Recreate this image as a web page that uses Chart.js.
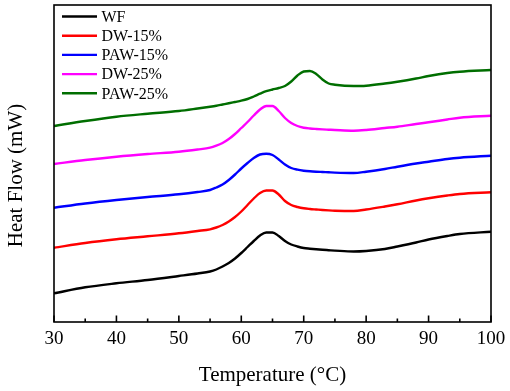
<!DOCTYPE html>
<html>
<head>
<meta charset="utf-8">
<script src="https://cdn.jsdelivr.net/npm/chart.js@4.4.1/dist/chart.umd.min.js"></script>
<style>
html,body{margin:0;padding:0;background:#fff;}
#wrap{width:510px;height:391px;position:relative;}
</style>
</head>
<body>
<div id="wrap"><canvas id="c" width="510" height="391"></canvas></div>
<script>
const temperature = [30,35,40,45,50,53,55,56,57,58,59,60,61,62,63,64,65,66,67,68,69,70,71,72,73,74,75,78,80,83,85,88,90,93,95,100];
const seriesNames = ['WF','DW-15%','PAW-15%','DW-25%','PAW-25%'];
const seriesColors = ['#000000','#ff0000','#0000ff','#ff00ff','#006e00'];
const wf     = [28.7,34.7,38.7,42,46,48.5,50.5,52.5,55.5,59,63.5,69,75,81,86.5,89.5,89.5,86,81,77.5,75.5,74,73.3,72.7,72.2,71.8,71.4,70.5,71,73,75.5,79.5,82.5,86,88,90.3];
const dw15   = [74.3,79,82.7,85.7,88.7,91,92.7,94.5,97,100.5,105,110.5,117,123.5,129,131.5,131.5,127.5,121,117,115,113.7,113,112.5,112,111.6,111.3,111,112.5,115.5,117.7,121.5,123.7,126.5,128,129.7];
const paw15  = [114.3,118.5,122,125,127.7,130,132,134.5,137.5,142,147.5,153.5,159,164,167.5,168.3,167,162.5,157.5,154,152.3,151.3,150.7,150.3,150,149.7,149.4,149,150.3,153,155.3,158.5,160.3,163,164.3,166.3];
const dw25   = [158,162,165.3,168,170.3,172.5,174.3,176.3,179,183,188,194,200,206.5,212.5,216,216,211,204,199,196,194.3,193.5,193,192.6,192.3,192,191.3,192,194,195.3,198,199.7,202.5,204.3,206.3];
const paw25  = [196,201,205.3,208.3,211,213.5,215.3,216.3,217.5,218.7,220,221.3,223,225.5,228.3,230.8,232.5,234,236,240.5,246.5,250.5,251,248,242.5,238.5,237.3,236,236.3,238.5,240.3,243.5,246,249,250.3,252];
const xTickLabels = ['30','40','50','60','70','80','90','100'];
const xTitle = 'Temperature (°C)';
const yTitle = 'Heat Flow (mW)';

const allSeries = [wf, dw15, paw15, dw25, paw25];
const datasets = allSeries.map((vals, i) => ({
  label: seriesNames[i],
  data: temperature.map((t, j) => ({x: t, y: vals[j]})),
  borderColor: seriesColors[i],
  backgroundColor: seriesColors[i],
  borderWidth: 2.4,
  pointRadius: 0,
  cubicInterpolationMode: 'monotone',
  fill: false
}));

const serif = "'Liberation Serif','Times New Roman',serif";

const decor = {
  id: 'decor',
  afterDraw(chart) {
    const ctx = chart.ctx;
    const a = chart.chartArea;
    const xs = chart.scales.x;
    ctx.save();
    ctx.strokeStyle = '#000';
    ctx.lineWidth = 1.6;
    ctx.strokeRect(a.left, a.top, a.right - a.left, a.bottom - a.top);
    for (let v = 30; v <= 100; v += 5) {
      const px = xs.getPixelForValue(v);
      const len = (v % 10 === 0) ? 6.5 : 3.5;
      ctx.beginPath();
      ctx.moveTo(px, a.bottom);
      ctx.lineTo(px, a.bottom - len);
      ctx.stroke();
    }
    ctx.fillStyle = '#000';
    ctx.font = '21px ' + serif;
    ctx.textAlign = 'center';
    ctx.textBaseline = 'middle';
    ctx.translate(16, 175.5);
    ctx.rotate(-Math.PI / 2);
    ctx.fillText(yTitle, 0, 0);
    ctx.restore();
    ctx.save();
    ctx.font = '16px ' + serif;
    ctx.textAlign = 'left';
    ctx.textBaseline = 'middle';
    chart.data.datasets.forEach((ds, i) => {
      const y = 16.5 + i * 19.2;
      ctx.strokeStyle = ds.borderColor;
      ctx.lineWidth = 2.4;
      ctx.beginPath();
      ctx.moveTo(62, y);
      ctx.lineTo(97, y);
      ctx.stroke();
      ctx.fillStyle = '#000';
      ctx.fillText(ds.label, 101.5, y + 1);
    });
    ctx.restore();
  }
};

new Chart(document.getElementById('c'), {
  type: 'line',
  data: { datasets },
  options: {
    responsive: false,
    animation: false,
    layout: { padding: { left: 54, right: 19, top: 5, bottom: 0 } },
    plugins: { legend: { display: false }, tooltip: { enabled: false } },
    scales: {
      x: {
        type: 'linear',
        min: 30, max: 100,
        grid: { display: false, drawTicks: false },
        border: { display: false },
        ticks: {
          stepSize: 5,
          autoSkip: false,
          maxRotation: 0,
          padding: 6,
          color: '#000',
          font: { family: serif, size: 19 },
          callback: (v) => (v % 10 === 0 ? xTickLabels[(v - 30) / 10] : '')
        },
        title: {
          display: true,
          text: xTitle,
          color: '#000',
          font: { family: serif, size: 21 },
          padding: { top: 0, bottom: 3 }
        },
        afterFit(scale) { scale.height = 69; scale.paddingLeft = 0; scale.paddingRight = 0; }
      },
      y: {
        display: false,
        min: 0, max: 317
      }
    }
  },
  plugins: [decor]
});
</script>
</body>
</html>
